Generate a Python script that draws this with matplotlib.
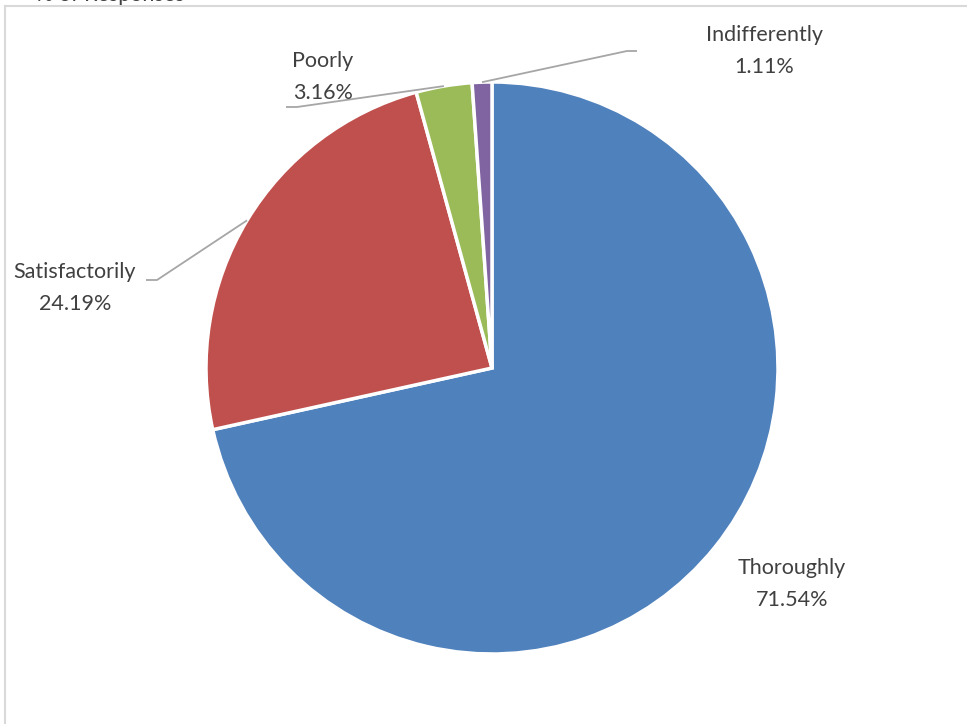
import numpy as np
import matplotlib.pyplot as plt
from matplotlib.lines import Line2D

# data
labels = ['Thoroughly', 'Satisfactorily', 'Poorly', 'Indifferently']
values = [71.54, 24.19, 3.16, 1.11]
colors = ['#4F81BD', '#C0504D', '#9BBB59', '#8064A2']

# label layout (pixels from top-left), and leader elbows (None = no leader)
label_pos = [(792, 584), (75, 288), (323, 77), (764, 51)]
elbows = [None, [(157, 280), (146, 280)], [(297, 107), (286, 107)], [(627, 51), (637, 51)]]

W, H = 967, 724
fig = plt.figure(figsize=(W / 100, H / 100), dpi=100)
ax = fig.add_axes([0, 0, 1, 1])

cx, cy, r = 492, H - 368, 286
wedges, _ = ax.pie(values, colors=colors, startangle=90, counterclock=False,
                   center=(cx, cy), radius=r,
                   wedgeprops=dict(edgecolor='white', linewidth=2.5))
ax.set_xlim(0, W)
ax.set_ylim(0, H)
ax.axis('off')

for w, lab, v, pos, elb in zip(wedges, labels, values, label_pos, elbows):
    ax.text(pos[0], H - pos[1], f'{lab}\n{v:.2f}%', ha='center', va='center',
            fontsize=15.5, color='#404040', family='Lato', linespacing=1.7)
    if elb is None:
        continue
    mid = np.deg2rad((w.theta1 + w.theta2) / 2)
    xs = [cx + r * np.cos(mid)] + [p[0] for p in elb]
    ys = [cy + r * np.sin(mid)] + [H - p[1] for p in elb]
    ax.plot(xs, ys, color='#A6A6A6', lw=1.3, solid_capstyle='butt')

# chart border (cropped screenshot)
fig.add_artist(Line2D([5 / W, 1], [1 - 6 / H, 1 - 6 / H], color='#D9D9D9', lw=1.5))
fig.add_artist(Line2D([5 / W, 5 / W], [0, 1 - 6 / H], color='#D9D9D9', lw=1.5))

# title, cut off at the top as in the source screenshot
fig.text(110 / W, 1 - 1 / H, '% of Responses', ha='center', va='baseline',
         fontsize=15.5, color='#404040', family='Lato')

fig.savefig('out.png', dpi=100)
